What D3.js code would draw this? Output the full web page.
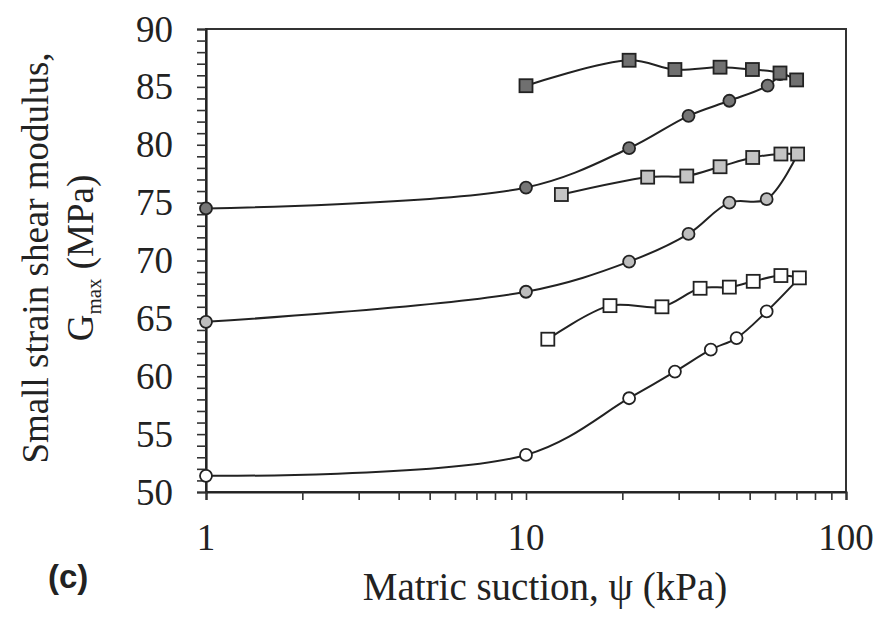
<!DOCTYPE html>
<html>
<head>
<meta charset="utf-8">
<script src="https://cdn.jsdelivr.net/npm/d3@7"></script>
<style>
  body { margin: 0; background: #fff; }
  svg text { font-family: "Liberation Serif", "Times New Roman", serif; fill: #222; }
</style>
</head>
<body>
<div id="chart"></div>
<script>
// data: suction (kPa) and Gmax (MPa)
const sqDark_x   = [10, 21, 29.2, 40.4, 51, 62.2, 70.1];
const sqDark_y   = [85.1, 87.3, 86.5, 86.7, 86.5, 86.2, 85.6];
const ciDark_x   = [1, 10, 21, 32.2, 43.2, 56.9, 62.2];
const ciDark_y   = [74.5, 76.3, 79.7, 82.5, 83.8, 85.1, 86.1];
const sqMid_x    = [12.9, 24, 31.8, 40.4, 51.1, 62.6, 70.6];
const sqMid_y    = [75.7, 77.2, 77.3, 78.1, 78.9, 79.2, 79.2];
const ciMid_x    = [1, 10, 21, 32.2, 43.2, 56.5, 70.6];
const ciMid_y    = [64.7, 67.3, 69.9, 72.3, 75.0, 75.3, 79.2];
const sqLight_x  = [11.7, 18.3, 26.6, 35, 43.2, 51.3, 62.6, 71.5];
const sqLight_y  = [63.2, 66.1, 66.0, 67.6, 67.7, 68.2, 68.7, 68.5];
const ciLight_x  = [1, 10, 21, 29.2, 37.8, 45.5, 56.5, 71.5];
const ciLight_y  = [51.4, 53.2, 58.1, 60.4, 62.3, 63.3, 65.6, 68.5];

const yTicks = [50, 55, 60, 65, 70, 75, 80, 85, 90];
const xTicks = [1, 10, 100];

const series = [
  { xs: ciLight_x, ys: ciLight_y, shape: "circle", fill: "#fff" },
  { xs: sqLight_x, ys: sqLight_y, shape: "square", fill: "#fff" },
  { xs: ciMid_x,   ys: ciMid_y,   shape: "circle", fill: "#bdbdbd" },
  { xs: sqMid_x,   ys: sqMid_y,   shape: "square", fill: "#c4c4c4" },
  { xs: ciDark_x,  ys: ciDark_y,  shape: "circle", fill: "#767676" },
  { xs: sqDark_x,  ys: sqDark_y,  shape: "square", fill: "#707070" }
];

const width = 883, height = 624;
const plotL = 206, plotR = 846, plotT = 29, plotB = 492;

const svg = d3.select("#chart").append("svg")
  .attr("width", width).attr("height", height);

const x = d3.scaleLog().domain([1, 100]).range([plotL, plotR]);
const y = d3.scaleLinear().domain([50, 90]).range([plotB, plotT]);

// frame
svg.append("rect")
  .attr("x", plotL).attr("y", plotT)
  .attr("width", plotR - plotL).attr("height", plotB - plotT)
  .attr("fill", "none").attr("stroke", "#333").attr("stroke-width", 2);

// y axis, minor tick every 1 MPa
const yAxis = svg.append("g").attr("transform", `translate(${plotL},0)`)
  .call(d3.axisLeft(y).tickValues(d3.range(50, 91, 1)).tickSize(9).tickFormat(""));
yAxis.select(".domain").attr("stroke", "#222").attr("stroke-width", 2.2);
yAxis.selectAll(".tick line").attr("stroke", "#333").attr("stroke-width", 1.6);

svg.selectAll(".ylab").data(yTicks).enter().append("text")
  .attr("x", 173).attr("y", d => y(d) + 12.5)
  .attr("text-anchor", "end").attr("font-size", 37)
  .text(d => d);

// x axis with minor ticks
const minor = [];
[1, 10].forEach(b => d3.range(1, 10).forEach(k => minor.push(b * k)));
minor.push(100);
const xAxis = svg.append("g").attr("transform", `translate(0,${plotB})`)
  .call(d3.axisBottom(x).tickValues(minor).tickSize(8).tickFormat(""));
xAxis.select(".domain").attr("stroke", "#222").attr("stroke-width", 2.2);
xAxis.selectAll(".tick line").attr("stroke", "#333").attr("stroke-width", 1.6);

svg.selectAll(".xlab").data(xTicks).enter().append("text")
  .attr("x", d => x(d)).attr("y", 550)
  .attr("text-anchor", "middle").attr("font-size", 37)
  .text(d => d);

// lines
const line = d3.line()
  .x(d => x(d[0])).y(d => y(d[1]))
  .curve(d3.curveCatmullRom.alpha(0.5));

series.forEach(s => {
  const pts = s.xs.map((v, i) => [v, s.ys[i]]);
  svg.append("path").datum(pts)
    .attr("d", line)
    .attr("fill", "none").attr("stroke", "#222").attr("stroke-width", 2);
});

// markers
series.forEach(s => {
  const pts = s.xs.map((v, i) => [v, s.ys[i]]);
  if (s.shape === "circle") {
    svg.append("g").selectAll("circle").data(pts).enter().append("circle")
      .attr("cx", d => x(d[0])).attr("cy", d => y(d[1])).attr("r", 6)
      .attr("fill", s.fill).attr("stroke", "#222").attr("stroke-width", 1.8);
  } else {
    svg.append("g").selectAll("rect").data(pts).enter().append("rect")
      .attr("x", d => x(d[0]) - 6.5).attr("y", d => y(d[1]) - 6.5)
      .attr("width", 13).attr("height", 13)
      .attr("fill", s.fill).attr("stroke", "#222").attr("stroke-width", 1.8);
  }
});

// axis titles
svg.append("text")
  .attr("x", 545).attr("y", 600)
  .attr("text-anchor", "middle").attr("font-size", 39)
  .text("Matric suction, \u03c8 (kPa)");

const yt = svg.append("g").attr("transform", "translate(48,258) rotate(-90)");
yt.append("text").attr("x", 0).attr("y", 0)
  .attr("text-anchor", "middle").attr("font-size", 37)
  .text("Small strain shear modulus,");
const g2 = yt.append("text").attr("x", 0).attr("y", 45)
  .attr("text-anchor", "middle").attr("font-size", 37);
g2.append("tspan").text("G");
g2.append("tspan").attr("font-size", 21).attr("dy", 8).text("max");
g2.append("tspan").attr("dy", -8).text(" (MPa)");

svg.append("text")
  .attr("x", 48).attr("y", 588)
  .attr("font-weight", "bold").attr("font-size", 33)
  .style("font-family", "'Liberation Sans', Arial, sans-serif")
  .text("(c)");
</script>
</body>
</html>
